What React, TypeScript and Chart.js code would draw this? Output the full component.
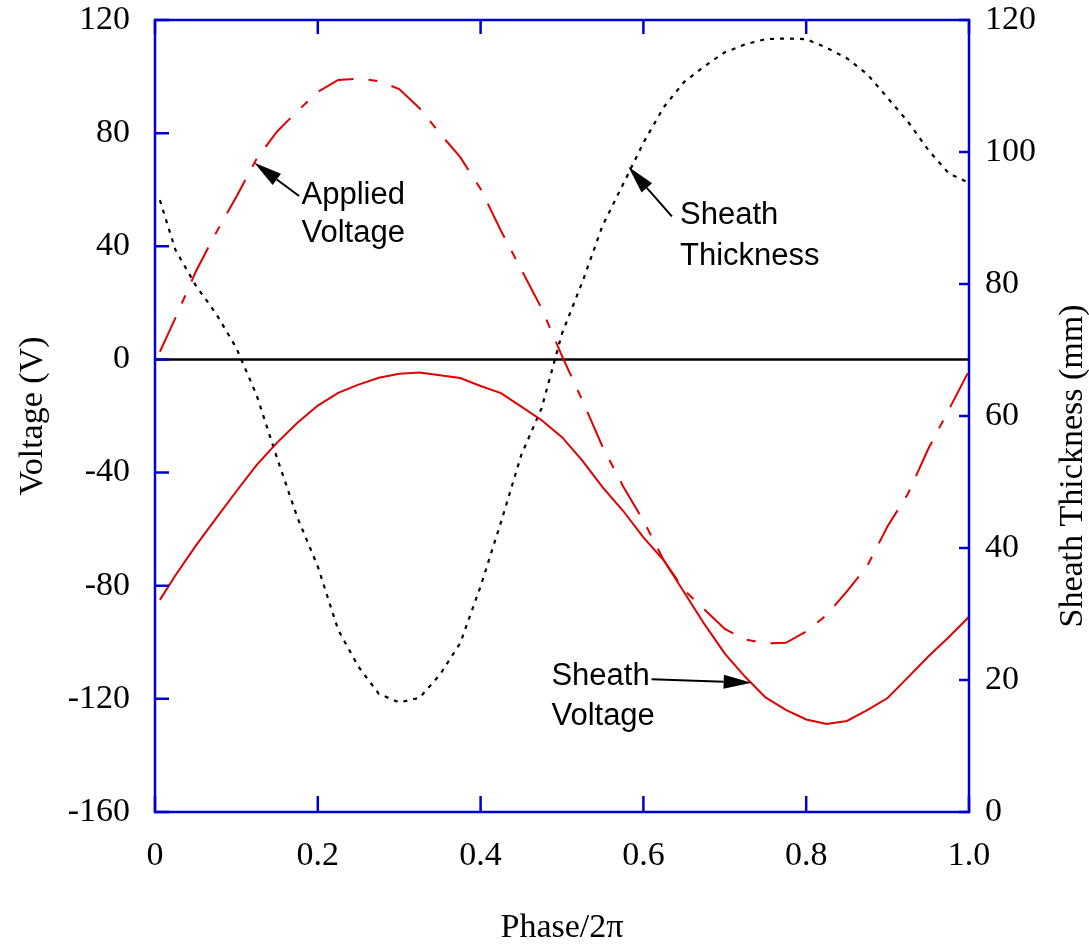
import React, { useEffect, useRef } from 'react';
import { Chart, registerables } from 'chart.js';

Chart.register(...registerables);

// ---- data ----
const phase = [0.006, 0.025, 0.05, 0.075, 0.1, 0.125, 0.15, 0.175, 0.2, 0.225, 0.25, 0.275, 0.3, 0.325, 0.35, 0.375, 0.4, 0.425, 0.45, 0.475, 0.5, 0.525, 0.55, 0.575, 0.6, 0.625, 0.65, 0.675, 0.7, 0.725, 0.75, 0.775, 0.8, 0.825, 0.85, 0.875, 0.9, 0.925, 0.95, 0.975, 1.0];

const appliedVoltage = [2.7, 14.6, 31, 44.8, 57.5, 71, 80.6, 87.8, 94.6, 98.8, 99.3, 98.4, 95.6, 88.8, 79.9, 71.5, 60.3, 45.5, 31.8, 18, 1.2, -14.5, -31, -44.8, -57, -71, -81.5, -88.4, -95.3, -99, -100.4, -100.2, -96.2, -90.4, -82, -73, -59, -47.5, -31.6, -17.9, -4];

const sheathVoltage = [-85, -76.4, -65.9, -56.2, -46.6, -37.3, -29.4, -22.4, -16.3, -11.8, -8.9, -6.5, -5.1, -4.6, -5.6, -6.6, -9.4, -11.9, -16.7, -21.5, -27.5, -35.8, -45.2, -53.5, -62.9, -71, -82.3, -93.6, -104, -112.2, -119.5, -123.9, -127.3, -128.9, -127.8, -124, -119.7, -112.4, -105, -98.2, -91];

const sheathThickness = [92.7, 85.2, 79.8, 75.5, 70.3, 63.1, 53.6, 44.6, 37.2, 27.6, 22, 17.9, 16.6, 17.3, 20.8, 25.6, 34.2, 43.9, 54.1, 61.2, 72.5, 80.3, 88.9, 95.1, 101.4, 106.8, 110.6, 113, 115.1, 116.3, 117.1, 117.2, 117.1, 115.8, 114.2, 111.8, 108.2, 104.6, 100.3, 96.8, 95.3];

const phaseTicks = [0, 0.2, 0.4, 0.6, 0.8, 1.0];
const phaseTickLabels = ['0', '0.2', '0.4', '0.6', '0.8', '1.0'];
const voltageTicks = [-160, -120, -80, -40, 0, 40, 80, 120];
const thicknessTicks = [0, 20, 40, 60, 80, 100, 120];

// annotation labels and arrows, anchored in data coordinates (phase, voltage)
const labelTexts = [
  { lines: ['Applied', 'Voltage'], x: 0.18, y: [55.1, 41.6] },
  { lines: ['Sheath', 'Thickness'], x: 0.645, y: [47.8, 33.3] },
  { lines: ['Sheath', 'Voltage'], x: 0.487, y: [-115.1, -129.2] },
];
const labelArrows = [
  { from: [0.177, 57.8], to: [0.122, 69.5] },
  { from: [0.635, 50.6], to: [0.5815, 68.1] },
  { from: [0.61, -113.1], to: [0.733, -114.3] },
];

const RED = '#e00000';
const BLUE = '#0000d0';
const SERIF = '"Liberation Serif", "Times New Roman", serif';
const SANS = '"Liberation Sans", Arial, sans-serif';

const decorPlugin = {
  id: 'decor',
  beforeDatasetsDraw(chart: any) {
    const { ctx, chartArea, scales } = chart;
    const y0 = scales.y.getPixelForValue(0);
    ctx.save();
    ctx.strokeStyle = '#000';
    ctx.lineWidth = 2.5;
    ctx.beginPath();
    ctx.moveTo(chartArea.left, y0);
    ctx.lineTo(chartArea.right, y0);
    ctx.stroke();
    ctx.restore();
  },
  afterDatasetsDraw(chart: any) {
    const { ctx, chartArea, scales } = chart;
    const { left, right, top, bottom } = chartArea;
    const xs = scales.x, ys = scales.y, y2 = scales.y2;
    ctx.save();
    // frame
    ctx.strokeStyle = BLUE;
    ctx.lineWidth = 2.5;
    ctx.strokeRect(left, top, right - left, bottom - top);
    // inward ticks
    ctx.beginPath();
    phaseTicks.forEach((v) => {
      const px = xs.getPixelForValue(v);
      ctx.moveTo(px, bottom);
      ctx.lineTo(px, bottom - 16);
      ctx.moveTo(px, top);
      ctx.lineTo(px, top + 14);
    });
    voltageTicks.forEach((v) => {
      const py = ys.getPixelForValue(v);
      ctx.moveTo(left, py);
      ctx.lineTo(left + 14, py);
    });
    thicknessTicks.forEach((v) => {
      const py = y2.getPixelForValue(v);
      ctx.moveTo(right, py);
      ctx.lineTo(right - 10, py);
    });
    ctx.stroke();

    // annotations
    ctx.fillStyle = '#000';
    ctx.strokeStyle = '#000';
    ctx.font = `31px ${SANS}`;
    ctx.textAlign = 'left';
    ctx.textBaseline = 'alphabetic';
    labelTexts.forEach((t) => {
      t.lines.forEach((line, i) => {
        ctx.fillText(line, xs.getPixelForValue(t.x), ys.getPixelForValue(t.y[i]));
      });
    });
    labelArrows.forEach((a) => {
      const x1 = xs.getPixelForValue(a.from[0]);
      const y1 = ys.getPixelForValue(a.from[1]);
      const x2 = xs.getPixelForValue(a.to[0]);
      const y2p = ys.getPixelForValue(a.to[1]);
      const ang = Math.atan2(y2p - y1, x2 - x1);
      const headLen = 28;
      const headW = 7;
      const bx = x2 - headLen * Math.cos(ang);
      const by = y2p - headLen * Math.sin(ang);
      ctx.lineWidth = 2;
      ctx.beginPath();
      ctx.moveTo(x1, y1);
      ctx.lineTo(bx, by);
      ctx.stroke();
      ctx.beginPath();
      ctx.moveTo(x2, y2p);
      ctx.lineTo(bx + headW * Math.sin(ang), by - headW * Math.cos(ang));
      ctx.lineTo(bx - headW * Math.sin(ang), by + headW * Math.cos(ang));
      ctx.closePath();
      ctx.fill();
    });
    ctx.restore();
  },
  afterDraw(chart: any) {
    const { ctx, chartArea } = chart;
    const cy = (chartArea.top + chartArea.bottom) / 2;
    const cx = (chartArea.left + chartArea.right) / 2;
    ctx.save();
    ctx.fillStyle = '#000';
    ctx.font = `34px ${SERIF}`;
    ctx.textAlign = 'center';
    ctx.textBaseline = 'middle';
    ctx.fillText('Phase/2\u03c0', cx, 928);
    ctx.save();
    ctx.translate(33, cy);
    ctx.rotate(-Math.PI / 2);
    ctx.fillText('Voltage (V)', 0, 0);
    ctx.restore();
    ctx.save();
    ctx.translate(1073, cy + 50);
    ctx.rotate(-Math.PI / 2);
    ctx.fillText('Sheath Thickness (mm)', 0, 0);
    ctx.restore();
    ctx.restore();
  },
};

const noPad = (s: any) => {
  s.paddingTop = 0;
  s.paddingBottom = 0;
  s.paddingLeft = 0;
  s.paddingRight = 0;
};

export default function App() {
  const canvasRef = useRef<HTMLCanvasElement | null>(null);

  useEffect(() => {
    const canvas = canvasRef.current;
    if (!canvas) return;
    const pts = (vals: (number | null)[]) => phase.map((p, i) => ({ x: p, y: vals[i] }));
    const tickFont = { family: SERIF, size: 34 };
    const chart = new Chart(canvas, {
      type: 'line',
      data: {
        datasets: [
          {
            label: 'Applied Voltage',
            data: pts(appliedVoltage),
            borderColor: RED,
            borderWidth: 2,
            borderDash: [38, 15, 9, 15],
            pointRadius: 0,
            tension: 0,
            yAxisID: 'y',
          },
          {
            label: 'Sheath Voltage',
            data: pts(sheathVoltage),
            borderColor: RED,
            borderWidth: 2,
            pointRadius: 0,
            tension: 0,
            yAxisID: 'y',
          },
          {
            label: 'Sheath Thickness',
            data: pts(sheathThickness),
            borderColor: '#000',
            borderWidth: 2.2,
            borderDash: [4, 6],
            pointRadius: 0,
            tension: 0,
            yAxisID: 'y2',
          },
        ],
      },
      options: {
        responsive: false,
        animation: false,
        devicePixelRatio: 1,
        layout: { padding: { top: 20, left: 0, right: 0, bottom: 0 } },
        plugins: { legend: { display: false }, tooltip: { enabled: false } },
        scales: {
          x: {
            type: 'linear',
            min: 0,
            max: 1,
            afterBuildTicks: (s: any) => { s.ticks = phaseTicks.map((v) => ({ value: v })); },
            afterFit: (s: any) => { s.height = 138; noPad(s); },
            grid: { display: false, drawTicks: false },
            border: { display: false },
            ticks: {
              font: tickFont,
              color: '#000',
              padding: 24,
              maxRotation: 0,
              autoSkip: false,
              callback: (v: any) => {
                const i = phaseTicks.findIndex((t) => Math.abs(t - v) < 1e-9);
                return i >= 0 ? phaseTickLabels[i] : '';
              },
            },
          },
          y: {
            type: 'linear',
            position: 'left',
            min: -160,
            max: 120,
            afterBuildTicks: (s: any) => { s.ticks = voltageTicks.map((v) => ({ value: v })); },
            afterFit: (s: any) => { s.width = 155; noPad(s); },
            grid: { display: false, drawTicks: false },
            border: { display: false },
            ticks: { font: tickFont, color: '#000', padding: 25 },
          },
          y2: {
            type: 'linear',
            position: 'right',
            min: 0,
            max: 120,
            afterBuildTicks: (s: any) => { s.ticks = thicknessTicks.map((v) => ({ value: v })); },
            afterFit: (s: any) => { s.width = 120; noPad(s); },
            grid: { display: false, drawTicks: false },
            border: { display: false },
            ticks: { font: tickFont, color: '#000', padding: 16 },
          },
        },
      },
      plugins: [decorPlugin],
    } as any);
    return () => chart.destroy();
  }, []);

  return (
    <div style={{ position: 'absolute', left: 0, top: 0, width: 1089, height: 950, background: '#fff' }}>
      <canvas ref={canvasRef} width={1089} height={950} style={{ display: 'block' }} />
    </div>
  );
}
